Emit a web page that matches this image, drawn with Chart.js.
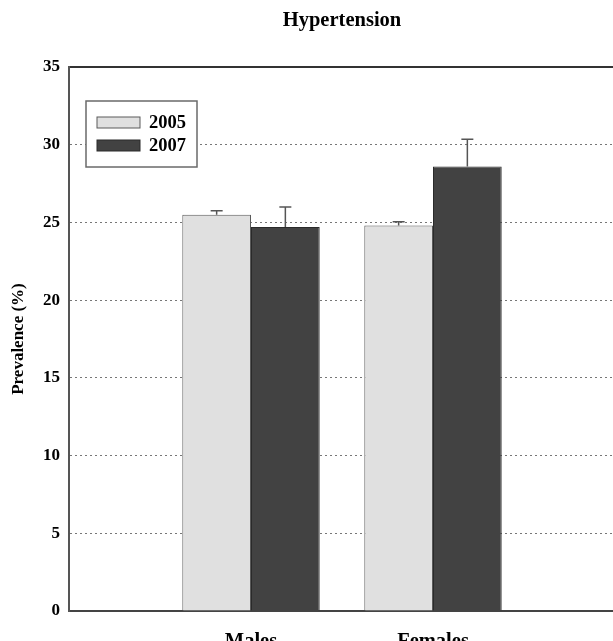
<!DOCTYPE html>
<html>
<head>
<meta charset="utf-8">
<script src="https://cdn.jsdelivr.net/npm/chart.js@4/dist/chart.umd.min.js"></script>
<style>
  html, body { margin: 0; padding: 0; overflow: hidden; background: #fff; }
  canvas { display: block; }
</style>
</head>
<body>
<canvas id="chart" width="615" height="641"></canvas>
<script>
// Values
const categories = ['', 'Males', 'Females', ''];
const years = ['2005', '2007'];
const prev2005 = [null, 25.5, 24.8, null];
const prev2007 = [null, 24.7, 28.6, null];
const err2005 = [null, 0.25, 0.25, null];
const err2007 = [null, 1.3, 1.75, null];
const yTicks = [0, 5, 10, 15, 20, 25, 30, 35];

const FONT = '"Liberation Serif", "Times New Roman", serif';
const colors = {
  light: { fill: '#e0e0e0', border: '#5a5a5a' },
  dark: { fill: '#424242', border: '#2a2a2a' },
};

// Upward-only error bars with a small cap
const errorBars = {
  id: 'errorBars',
  afterDatasetsDraw(chart) {
    const { ctx, scales: { y } } = chart;
    const errs = [err2005, err2007];
    ctx.save();
    ctx.strokeStyle = '#555';
    ctx.lineWidth = 1.5;
    chart.data.datasets.forEach((ds, di) => {
      chart.getDatasetMeta(di).data.forEach((bar, i) => {
        const v = ds.data[i];
        const e = errs[di][i];
        if (v == null || e == null) return;
        const y0 = y.getPixelForValue(v);
        const y1 = y.getPixelForValue(v + e);
        ctx.beginPath();
        ctx.moveTo(bar.x, y0);
        ctx.lineTo(bar.x, y1);
        ctx.moveTo(bar.x - 6, y1);
        ctx.lineTo(bar.x + 6, y1);
        ctx.stroke();
      });
    });
    ctx.restore();
  },
};

// Boxed legend inside the plot, top left
const boxLegend = {
  id: 'boxLegend',
  afterDraw(chart) {
    const { ctx, chartArea } = chart;
    const bx = chartArea.left + 17;
    const by = chartArea.top + 34;
    ctx.save();
    ctx.fillStyle = '#fff';
    ctx.fillRect(bx, by, 111, 66);
    ctx.strokeStyle = '#6a6a6a';
    ctx.lineWidth = 1.5;
    ctx.strokeRect(bx, by, 111, 66);
    chart.data.datasets.forEach((ds, i) => {
      const ry = by + 16 + i * 23;
      ctx.fillStyle = ds.backgroundColor;
      ctx.fillRect(bx + 11, ry, 43, 11);
      ctx.strokeStyle = ds.borderColor;
      ctx.lineWidth = 1;
      ctx.strokeRect(bx + 11, ry, 43, 11);
      ctx.fillStyle = '#000';
      ctx.font = 'bold 18.5px ' + FONT;
      ctx.textBaseline = 'middle';
      ctx.fillText(ds.label, bx + 63, ry + 6);
    });
    ctx.restore();
  },
};

new Chart(document.getElementById('chart'), {
  type: 'bar',
  data: {
    labels: categories,
    datasets: [
      {
        label: years[0],
        data: prev2005,
        backgroundColor: colors.light.fill,
        borderColor: colors.light.border,
        borderWidth: 1,
      },
      {
        label: years[1],
        data: prev2007,
        backgroundColor: colors.dark.fill,
        borderColor: colors.dark.border,
        borderWidth: 1,
      },
    ],
  },
  options: {
    responsive: false,
    animation: false,
    layout: { padding: { left: 0, right: 0, top: 0, bottom: 0 } },
    datasets: { bar: { categoryPercentage: 0.755, barPercentage: 1 } },
    plugins: {
      legend: { display: false },
      tooltip: { enabled: false },
      title: {
        display: true,
        fullSize: false,
        text: 'Hypertension',
        color: '#000',
        font: { family: FONT, size: 20.5, weight: 'bold' },
        padding: { top: 8, bottom: 34.4 },
      },
    },
    scales: {
      x: {
        offset: false,
        grid: { display: false },
        border: { color: '#444', width: 2 },
        ticks: {
          color: '#000',
          font: { family: FONT, size: 20.5, weight: 'bold' },
          padding: 10,
          maxRotation: 0,
          autoSkip: false,
        },
        afterFit: (scale) => {
          scale.height = 30;
          scale.paddingLeft = 0;
          scale.paddingRight = 0;
        },
      },
      y: {
        min: 0,
        max: 35,
        afterBuildTicks: (scale) => { scale.ticks = yTicks.map(v => ({ value: v })); },
        grid: {
          color: (c) => (c.tick && c.tick.value === 0 ? 'rgba(0,0,0,0)' : (c.tick && c.tick.value === 35 ? '#333' : '#777')),
          lineWidth: (c) => (c.tick && c.tick.value === 35 ? 2 : 1),
          drawTicks: false,
        },
        border: {
          color: '#555',
          width: 2,
          dash: (c) => (c.tick && c.tick.value === 35 ? [] : [2, 3]),
        },
        ticks: {
          color: '#000',
          font: { family: FONT, size: 17, weight: 'bold' },
          padding: 9,
        },
        title: {
          display: true,
          text: 'Prevalence (%)',
          color: '#000',
          font: { family: FONT, size: 17, weight: 'bold' },
          padding: { top: 8, bottom: 0 },
        },
        afterFit: (scale) => { scale.width = 69; },
      },
    },
  },
  plugins: [errorBars, boxLegend],
});
</script>
</body>
</html>
